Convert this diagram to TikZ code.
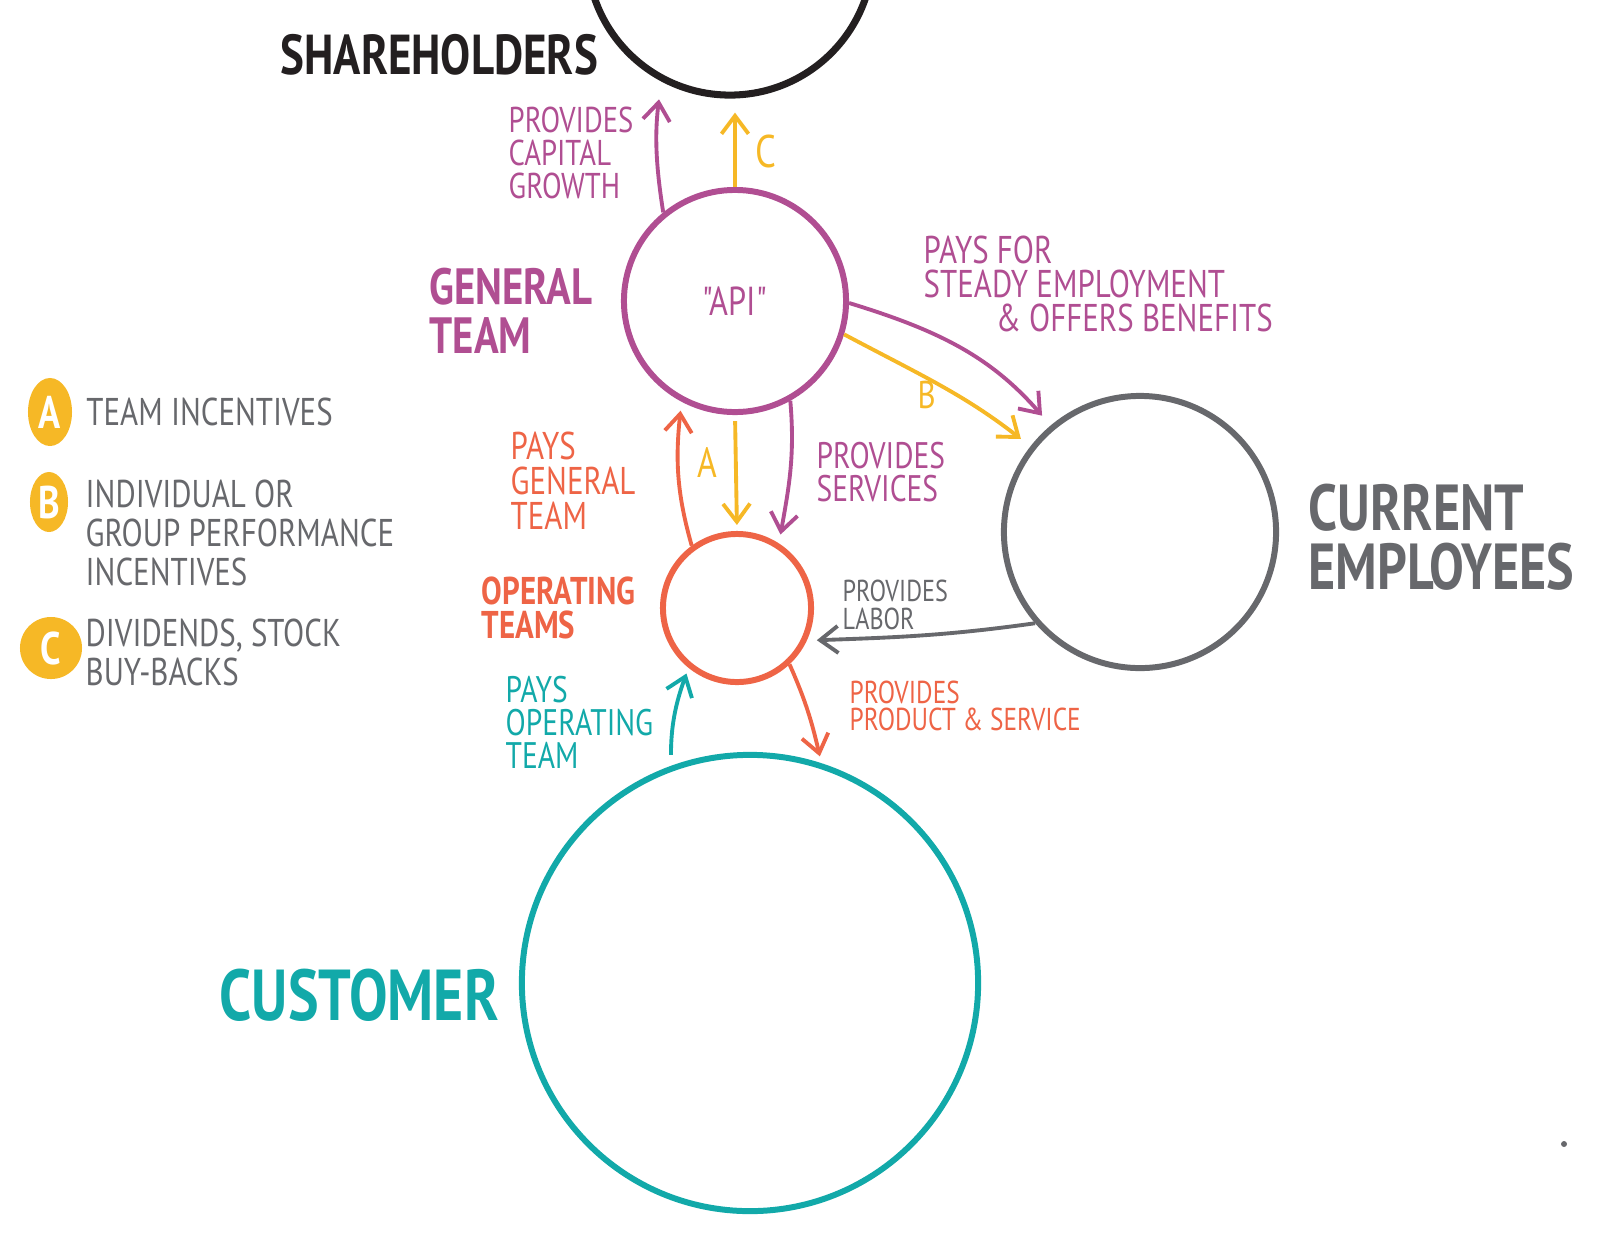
\documentclass[tikz,border=0pt]{standalone}
\usepackage{fontspec}
\usepackage{xcolor}
\usepackage{tikz}
\usetikzlibrary{shapes.geometric,arrows.meta,positioning}

\newfontfamily\handfont[FakeStretch=0.8]{PT Sans}

\definecolor{apiPurple}{HTML}{B04E92}
\definecolor{incYellow}{HTML}{F6B826}
\definecolor{opOrange}{HTML}{EE6446}
\definecolor{custTeal}{HTML}{12A9A9}
\definecolor{empGray}{HTML}{67686C}
\definecolor{holdBlack}{HTML}{231F20}

\begin{document}
\begin{tikzpicture}[x=0.01cm, y=0.01cm,
    ring/.style={circle, draw, line width=1.7pt, inner sep=0pt},
    note/.style={anchor=west, align=left, inner sep=0pt, font=\handfont\fontsize{10.5}{9.4}\selectfont},
    bigtag/.style={anchor=west, align=left, inner sep=0pt, font=\handfont\bfseries\fontsize{18.5}{16.8}\selectfont},
    keytext/.style={anchor=west, align=left, inner sep=0pt, text=empGray, font=\handfont\fontsize{11}{11.1}\selectfont},
    badge/.style={ellipse, fill=incYellow, text=white, inner sep=0pt, font=\handfont\bfseries\fontsize{13}{13}\selectfont},
    flow/.style={-{Straight Barb[length=1.8mm,width=2.7mm]}, line width=1.1pt}]
    \useasboundingbox (0,0) rectangle (1600,-1239);

    % the five groups
    \node [ring, draw=holdBlack, line width=2pt, minimum size=2.86cm] (share) at (730,48) {};
    \node [ring, draw=apiPurple, minimum size=2.22cm, font=\handfont\fontsize{11.5}{11.5}\selectfont, text=apiPurple] (gen) at (735,-301) {"API"};
    \node [ring, draw=opOrange, minimum size=1.48cm] (op) at (737,-608) {};
    \node [ring, draw=empGray, minimum size=2.72cm] (cur) at (1140,-532) {};
    \node [ring, draw=custTeal, minimum size=4.56cm] (cust) at (750,-983) {};

    % group names
    \node [bigtag, text=holdBlack, font=\handfont\bfseries\fontsize{16}{16}\selectfont] (shareLbl) at (280,-55) {SHAREHOLDERS};
    \node [bigtag, text=apiPurple, font=\handfont\bfseries\fontsize{14.5}{13.8}\selectfont] (genLbl) at (429,-311) {GENERAL\\TEAM};
    \node [bigtag, text=opOrange, font=\handfont\bfseries\fontsize{11}{9.6}\selectfont] (opLbl) at (481,-608) {OPERATING\\TEAMS};
    \node [bigtag, text=empGray] (curLbl) at (1308,-537) {CURRENT\\EMPLOYEES};
    \node [bigtag, text=custTeal, font=\handfont\bfseries\fontsize{20.5}{20}\selectfont] (custLbl) at (219,-995) {CUSTOMER};

    % flow labels
    \node [note, text=apiPurple, font=\handfont\fontsize{10.2}{9.4}\selectfont] (growthLbl) at (508,-153) {PROVIDES\\CAPITAL\\GROWTH};
    \node [note, text=incYellow, font=\handfont\fontsize{13}{13}\selectfont] (cLbl) at (755,-151) {C};
    \node [note, text=apiPurple, font=\handfont\fontsize{11}{9.7}\selectfont] (benefitLbl) at (923,-284) {PAYS FOR\\STEADY EMPLOYMENT\\\hspace*{0.72cm}\& OFFERS BENEFITS};
    \node [note, text=incYellow, font=\handfont\fontsize{11}{11}\selectfont] (bLbl) at (917,-395) {B};
    \node [note, text=opOrange, font=\handfont\fontsize{11}{9.9}\selectfont] (payGenLbl) at (510,-481) {PAYS\\GENERAL\\TEAM};
    \node [note, text=incYellow, font=\handfont\fontsize{12}{12}\selectfont] (aLbl) at (697,-462) {A};
    \node [note, text=apiPurple] (servLbl) at (816,-472) {PROVIDES\\SERVICES};
    \node [note, text=empGray, font=\handfont\fontsize{8.6}{7.8}\selectfont] (laborLbl) at (842,-605) {PROVIDES\\LABOR};
    \node [note, text=custTeal] (payOpLbl) at (505,-722) {PAYS\\OPERATING\\TEAM};
    \node [note, text=opOrange, font=\handfont\fontsize{9}{7.8}\selectfont] (prodLbl) at (849,-706) {PROVIDES\\PRODUCT \& SERVICE};

    % key
    \node [badge, minimum width=0.44cm, minimum height=0.68cm] (badgeA) at (50,-412) {A};
    \node [badge, minimum width=0.38cm, minimum height=0.60cm] (badgeB) at (49,-502) {B};
    \node [badge, minimum width=0.62cm, minimum height=0.62cm] (badgeC) at (51,-648) {C};
    \node [keytext, right=0.13cm of badgeA] (keyA) {TEAM INCENTIVES};
    \node [keytext] (keyB) at (85,-533) {INDIVIDUAL OR\\GROUP PERFORMANCE\\INCENTIVES};
    \node [keytext] (keyC) at (85,-652) {DIVIDENDS, STOCK\\BUY-BACKS};

    % flows
    \draw [flow, apiPurple, shorten >=1.8mm] (gen.129) to[out=99, in=-97] (share.242);
    \draw [flow, incYellow, shorten >=1.4mm] (gen.north) -- (gen.north |- share.south);
    \draw [flow, apiPurple, shorten >=1.3mm] (gen.-1) to[out=-17, in=131] (cur.130);
    \draw [flow, incYellow, shorten >=1.2mm] (gen.-17) to[out=-28, in=142] (cur.142);
    \draw [flow, opOrange, shorten >=0.9mm] (op.126) to[out=106, in=-96] (gen.242);
    \draw [flow, incYellow, shorten <=0.6mm, shorten >=0.6mm] (gen.south) -- (op.north);
    \draw [flow, apiPurple, shorten >=0.9mm] (gen.-61) to[out=-85, in=80] (op.57);
    \draw [flow, empGray, shorten >=1mm] (cur.221) to[out=188, in=2] (op.-25);
    \draw [flow, custTeal, shorten <=1.1mm, shorten >=0.6mm] (cust.110) to[out=90, in=250] (op.231);
    \draw [flow, opOrange, shorten >=0.7mm] (op.-47) to[out=-66, in=103] (cust.72);

    \fill [empGray] (1564,-1144) circle (0.3mm);
\end{tikzpicture}
\end{document}
